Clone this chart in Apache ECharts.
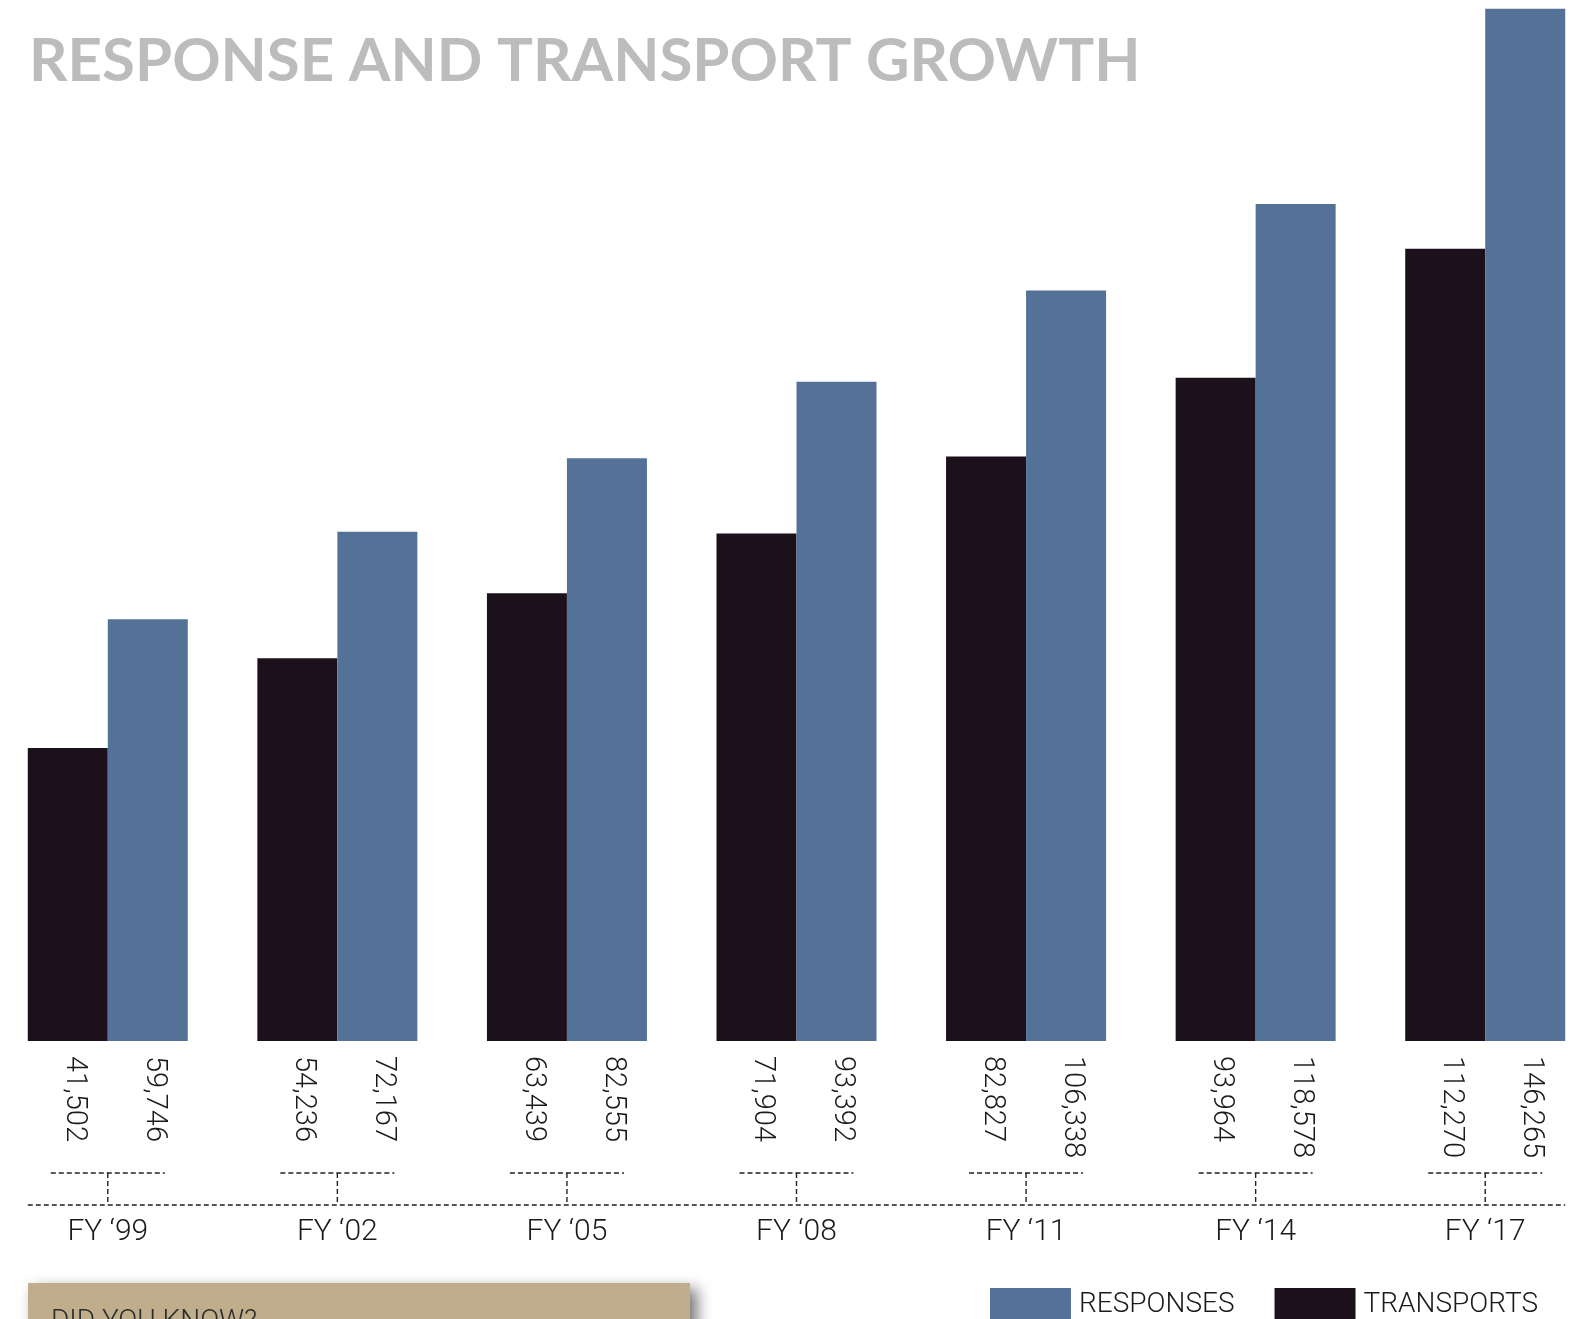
<!DOCTYPE html>
<html>
<head>
<meta charset="utf-8">
<script src="https://cdn.jsdelivr.net/npm/echarts@6/dist/echarts.min.js"></script>
<style>
  html, body { margin: 0; padding: 0; background: #fff; overflow: hidden; width: 1584px; height: 1319px; }
  /* canvas is a bit wider than the window so the outer bars can sit half off the edge */
  #chart { position: absolute; left: -7px; top: 0; width: 1612px; height: 1319px; }
</style>
</head>
<body>
<div id="chart"></div>
<script>
// fiscal years
const categories = ['FY \u201899', 'FY \u201802', 'FY \u201805', 'FY \u201808', 'FY \u201811', 'FY \u201814', 'FY \u201817'];
// call counts
const transports = [41502, 54236, 63439, 71904, 82827, 93964, 112270];
const responses = [59746, 72167, 82555, 93392, 106338, 118578, 146265];

const chart = echarts.init(document.getElementById('chart'));

const SHIFT = 7; // canvas x = screen x + SHIFT
const font = 'Roboto, sans-serif';

const valueLabel = {
  show: true,
  position: 'bottom',
  distance: 15,
  rotate: -90,
  align: 'left',
  verticalAlign: 'middle',
  offset: [0, -6],
  fontFamily: font,
  fontWeight: 300,
  fontSize: 29,
  color: '#1a1a1a',
  formatter: p => p.value.toLocaleString('en-US')
};

const option = {
  backgroundColor: '#fff',
  animation: false,
  title: {
    text: 'RESPONSE AND TRANSPORT GROWTH',
    left: 24 + SHIFT,
    top: 27,
    textStyle: {
      fontFamily: 'Lato',
      fontWeight: 'bold',
      fontSize: 60,
      color: '#bcbcbc'
    }
  },
  legend: {
    data: ['RESPONSES', 'TRANSPORTS'],
    left: 990 + SHIFT,
    top: 1288,
    padding: 0,
    itemWidth: 81,
    itemHeight: 34,
    itemGap: 40,
    icon: 'rect',
    textStyle: { fontFamily: font, fontWeight: 300, fontSize: 28, color: '#1a1a1a', padding: [0, 0, 0, 3] }
  },
  grid: { left: 0, width: 1607, top: 0, height: 1041 },
  xAxis: {
    type: 'category',
    data: categories,
    axisLine: { show: false },
    axisTick: { show: false },
    axisLabel: {
      margin: 176,
      fontFamily: font,
      fontWeight: 300,
      fontSize: 30,
      color: '#1a1a1a'
    }
  },
  yAxis: { type: 'value', min: 0, max: 147500, show: false },
  series: [
    {
      name: 'TRANSPORTS',
      type: 'bar',
      data: transports,
      barWidth: 80,
      barGap: '0%',
      itemStyle: { color: '#1c111a' },
      label: valueLabel
    },
    {
      name: 'RESPONSES',
      type: 'bar',
      data: responses,
      barWidth: 80,
      itemStyle: { color: '#547297' },
      label: valueLabel
    },
    {
      // dashed bracket under each year
      type: 'custom',
      silent: true,
      data: categories.map(c => [c, 0]),
      encode: { x: 0, y: 1 },
      renderItem: (params, api) => {
        const idx = params.dataIndex;
        const pt = api.coord([api.value(0), 0]);
        const x = pt[0], base = pt[1];
        const band = api.size([1, 0])[0];
        const y1 = base + 132, y2 = base + 164;
        const style = { stroke: '#222', lineWidth: 1.4, lineDash: [5, 3] };
        const children = [
          { type: 'line', shape: { x1: x - 57, y1: y1, x2: x + 57, y2: y1 }, style },
          { type: 'line', shape: { x1: x, y1: y1, x2: x, y2: y2 }, style }
        ];
        if (idx === 0) {
          // one long baseline from the first bar's left edge to the last bar's right edge
          const last = x + band * (categories.length - 1);
          children.push({ type: 'line', shape: { x1: x - 80, y1: y2, x2: last + 80, y2: y2 }, style });
        }
        return { type: 'group', children };
      }
    }
  ],
  graphic: [
    {
      type: 'rect',
      left: 28 + SHIFT,
      top: 1283,
      shape: { width: 662, height: 60 },
      style: {
        fill: '#bfad8b',
        shadowBlur: 14,
        shadowOffsetX: 7,
        shadowOffsetY: 6,
        shadowColor: 'rgba(0,0,0,0.55)'
      }
    },
    {
      type: 'text',
      left: 51 + SHIFT,
      top: 1308,
      style: { text: 'DID YOU KNOW?', font: '300 28px ' + font, fill: '#2a2a2a' }
    }
  ]
};

chart.setOption(option);
window.addEventListener('resize', () => chart.resize());
</script>
</body>
</html>
